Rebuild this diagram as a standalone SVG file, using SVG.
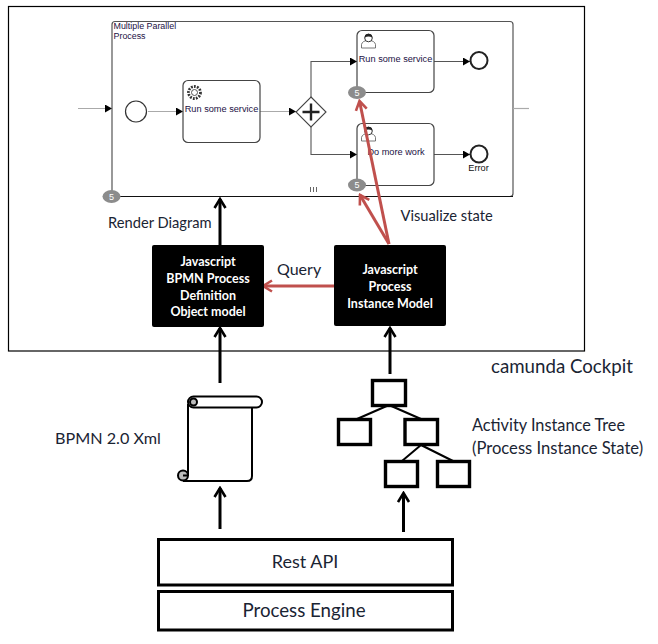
<svg xmlns="http://www.w3.org/2000/svg" width="658" height="644" viewBox="0 0 658 644">
<style>
.lbl{font-family:Lato,"Liberation Sans",sans-serif;fill:#1a2433}
.box{font-family:Lato,"Liberation Sans",sans-serif;font-weight:700;font-size:12.5px;fill:#fff;text-anchor:middle}
.bp{font-family:"Liberation Sans",Arial,sans-serif;font-size:9.2px;fill:#221144}
.task{fill:#fff;stroke:#444;stroke-width:1.2}
.flow{fill:none;stroke:#555;stroke-width:1.1}
.flowg{fill:none;stroke:#aaa;stroke-width:1.2}
.blk{fill:none;stroke:#000;stroke-width:3}
.red{fill:none;stroke:#c0504d;stroke-width:3}
.t{fill:#fff;stroke:#000;stroke-width:3.4}
.tl{fill:none;stroke:#000;stroke-width:2}
.bd{fill:#8c8c8c}
.bt{font-family:"Liberation Sans",sans-serif;font-size:9px;fill:#fff;text-anchor:middle}
.user{fill:#fff;stroke:#555;stroke-width:.8}
</style>
<defs>
<marker id="tri" markerUnits="userSpaceOnUse" markerWidth="7" markerHeight="8" refX="7" refY="4" orient="auto"><path d="M0 0L7 4L0 8Z" fill="#000"/></marker>
<marker id="open" markerUnits="userSpaceOnUse" markerWidth="14" markerHeight="14" refX="12" refY="7" orient="auto"><path d="M3 1.5L12 7L3 12.5" fill="none" stroke="#000" stroke-width="2.6"/></marker>
<marker id="openr" markerUnits="userSpaceOnUse" markerWidth="14" markerHeight="14" refX="12" refY="7" orient="auto"><path d="M3 1.5L12 7L3 12.5" fill="none" stroke="#c0504d" stroke-width="2.6"/></marker>
</defs>
<rect width="658" height="644" fill="#fff"/>
<rect id="cockpit" x="8.500" y="6.500" width="576" height="344.500" fill="#fff" stroke="#000" stroke-width="1.200"/>

<g id="subprocess">
<rect x="112" y="21.500" width="401" height="175" rx="3" fill="#fff" stroke="#555" stroke-width="1.200"/>
<path d="M112 196.500H513" stroke="#111" stroke-width="1.200"/>
<text class="bp" x="113.500" y="28.500" style="font-size:8.900px">Multiple Parallel</text>
<text class="bp" x="113.500" y="38.500" style="font-size:8.900px">Process</text>
<path d="M310.500 187v5M313.500 187v5M316.500 187v5" stroke="#666" stroke-width="1"/>
</g>

<g id="connectors">
<path class="flowg" d="M78 108.500H112" marker-end="url(#tri)"/>
<path class="flowg" d="M513 108.500H529"/>
<path class="flowg" d="M148 111.500H183" marker-end="url(#tri)"/>
<path class="flowg" d="M260 111.500H296" marker-end="url(#tri)"/>
<path class="flow" d="M311 97V61.500H357" marker-end="url(#tri)"/>
<path class="flow" d="M311 127V154.500H357" marker-end="url(#tri)"/>
<path class="flow" d="M434 61.500H470" marker-end="url(#tri)"/>
<path class="flow" d="M434 154.500H470" marker-end="url(#tri)"/>
<path class="blk" d="M220 245V199" marker-end="url(#open)"/>
<path class="blk" d="M220 383V328" marker-end="url(#open)"/>
<path class="blk" d="M390 374V328" marker-end="url(#open)"/>
<path class="blk" d="M220 529V488" marker-end="url(#open)"/>
<path class="blk" d="M403.500 532V493" marker-end="url(#open)"/>
<path class="red" d="M335 286H263" marker-end="url(#openr)"/>
</g>

<g id="start"><circle cx="136" cy="111.500" r="10.500" fill="#fff" stroke="#333" stroke-width="1.200"/></g>

<g id="task-service">
<rect class="task" x="183" y="80.500" width="77" height="62" rx="5"/>
<circle cx="194.500" cy="92.500" r="6" fill="#fff" stroke="#333" stroke-width="2.800" stroke-dasharray="1.800 1.200"/>
<circle cx="194.500" cy="92.500" r="3" fill="#fff" stroke="#555" stroke-width="1"/>
<text class="bp" x="221.500" y="112" text-anchor="middle">Run some service</text>
</g>

<g id="gateway">
<path d="M311 97L326 112L311 127L296 112Z" fill="#fff" stroke="#444" stroke-width="1.100"/>
<path d="M311 103.500V120.500M302.500 112H319.500" stroke="#222" stroke-width="2.400" fill="none"/>
</g>

<g id="task-run">
<rect class="task" x="357" y="30.500" width="77" height="62" rx="5"/>
<path class="user" d="M361.500 48V44.500Q362 41 368.500 40Q375 41 375.500 44.500V48Z"/>
<circle cx="368.500" cy="38" r="3.800" fill="#fff" stroke="#333" stroke-width="1"/>
<path d="M364.700 37.500A3.800 3.800 0 0 1 372.300 37.500Q368.500 35.500 364.700 37.500Z" fill="#222"/>
<text class="bp" x="395.500" y="61.500" text-anchor="middle">Run some service</text>
</g>

<g id="task-work">
<rect class="task" x="357" y="123.500" width="77" height="62" rx="5"/>
<path class="user" d="M361.500 141V137.500Q362 134 368.500 133Q375 134 375.500 137.500V141Z"/>
<circle cx="368.500" cy="131" r="3.800" fill="#fff" stroke="#333" stroke-width="1"/>
<path d="M364.700 130.500A3.800 3.800 0 0 1 372.300 130.500Q368.500 128.500 364.700 130.500Z" fill="#222"/>
<text class="bp" x="396" y="155" text-anchor="middle">Do more work</text>
</g>

<g id="end-1"><circle cx="479" cy="60.500" r="8.500" fill="#fff" stroke="#222" stroke-width="2"/></g>
<g id="end-2"><circle cx="479" cy="154" r="8.500" fill="#fff" stroke="#222" stroke-width="2"/>
<text class="bp" x="478.500" y="171" text-anchor="middle" style="fill:#111">Error</text></g>

<g id="badge-sub"><ellipse class="bd" cx="111.500" cy="196.500" rx="9" ry="6.500"/><text class="bt" x="111.500" y="199.700">5</text></g>
<g id="badge-run"><ellipse class="bd" cx="357" cy="92.500" rx="9" ry="6.500"/><text class="bt" x="357" y="95.700">5</text></g>
<g id="badge-work"><ellipse class="bd" cx="357" cy="185" rx="9" ry="6.500"/><text class="bt" x="357" y="188.200">5</text></g>

<g id="red-arrows">
<path class="red" d="M389 244L359.500 101" marker-end="url(#openr)"/>
<path class="red" d="M389 244L360 195" marker-end="url(#openr)"/>
</g>

<g id="js-definition">
<rect x="152" y="245" width="112" height="82" rx="2" fill="#000"/>
<text class="box" x="208" y="266">Javascript</text>
<text class="box" x="208" y="283">BPMN Process</text>
<text class="box" x="208" y="300">Definition</text>
<text class="box" x="208" y="316">Object model</text>
</g>
<g id="js-instance">
<rect x="334" y="245" width="112" height="81" rx="2" fill="#000"/>
<text class="box" x="390" y="274">Javascript</text>
<text class="box" x="390" y="291">Process</text>
<text class="box" x="390" y="308">Instance Model</text>
</g>

<text class="lbl" x="108" y="228" font-size="14.700">Render Diagram</text>
<text class="lbl" x="277" y="274.500" font-size="16">Query</text>
<text class="lbl" x="400.500" y="221" font-size="14.700">Visualize state</text>
<text class="lbl" x="491" y="373" font-size="18.700">camunda Cockpit</text>

<g id="scroll" fill="none" stroke="#000" stroke-width="2">
<path d="M188 404V476M252 408V476Q252 481 247 481H183" fill="#fff"/>
<rect x="188" y="396.500" width="74" height="11" rx="5.500" fill="#fff"/>
<circle cx="193.500" cy="402" r="3.500" fill="#bbb"/>
<circle cx="183" cy="475.500" r="5" fill="#bbb"/>
<path d="M183 475.500H188"/>
</g>
<text class="lbl" x="55" y="444" font-size="16.200">BPMN 2.0 Xml</text>

<g id="tree">
<path class="tl" d="M389 405L357 419M389 405L421 419M421 445L402 461M421 445L453 461"/>
<rect class="t" x="372.500" y="380.500" width="33" height="25"/>
<rect class="t" x="338.500" y="419.500" width="32" height="25"/>
<rect class="t" x="405" y="419.500" width="32.500" height="25"/>
<rect class="t" x="385.500" y="461.500" width="32" height="25"/>
<rect class="t" x="437.500" y="461.500" width="32" height="25"/>
</g>
<text class="lbl" x="472" y="431" font-size="16.300">Activity Instance Tree</text>
<text class="lbl" x="472" y="454" font-size="16.600">(Process Instance State)</text>

<g id="rest-api">
<rect x="158.500" y="539.500" width="294" height="45.500" fill="#fff" stroke="#000" stroke-width="3"/>
<text class="lbl" x="305" y="568" font-size="18" text-anchor="middle">Rest API</text>
</g>
<g id="process-engine">
<rect x="158.500" y="591.500" width="294" height="38.500" fill="#fff" stroke="#000" stroke-width="3"/>
<text class="lbl" x="304" y="617" font-size="18.700" text-anchor="middle">Process Engine</text>
</g>
</svg>
